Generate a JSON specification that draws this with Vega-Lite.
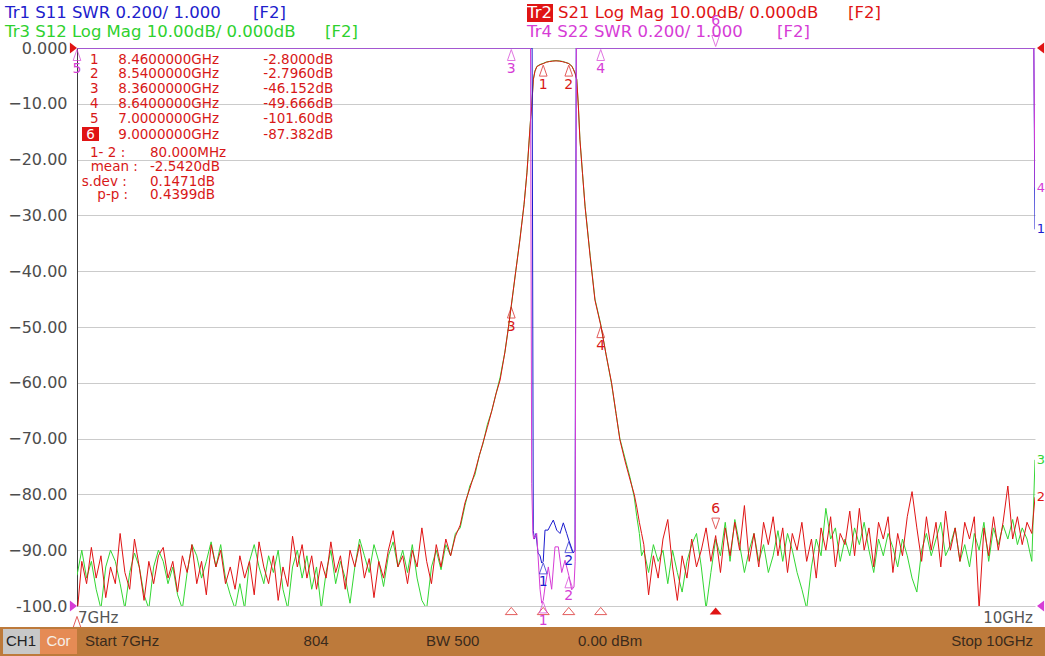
{
  "$schema": "https://vega.github.io/schema/vega-lite/v6.json",
  "width": 958,
  "height": 558,
  "autosize": {"type": "none"},
  "padding": {"left": 77, "top": 48, "right": 10, "bottom": 50},
  "background": "#ffffff",
  "config": {
    "view": {"stroke": null},
    "font": "DejaVu Sans",
    "axis": {"gridColor": "#cbcbcb", "gridWidth": 1}
  },
  "datasets": {
    "s21": [
      {"f":7,"v":-101.6},{"f":7.015,"v":-92},{"f":7.03,"v":-96},{"f":7.045,"v":-89.5},{"f":7.06,"v":-95},{"f":7.075,"v":-91},{"f":7.09,"v":-98.5},{"f":7.105,"v":-93},{"f":7.12,"v":-96},{"f":7.135,"v":-87},
      {"f":7.15,"v":-94},{"f":7.165,"v":-97},{"f":7.18,"v":-88},{"f":7.195,"v":-93},{"f":7.21,"v":-99},{"f":7.225,"v":-92},{"f":7.24,"v":-96},{"f":7.255,"v":-91},{"f":7.27,"v":-89.5},{"f":7.285,"v":-95},
      {"f":7.3,"v":-92},{"f":7.315,"v":-97.5},{"f":7.33,"v":-91},{"f":7.345,"v":-94},{"f":7.36,"v":-89},{"f":7.375,"v":-96},{"f":7.39,"v":-92},{"f":7.405,"v":-98},{"f":7.42,"v":-89},{"f":7.435,"v":-93},
      {"f":7.45,"v":-90},{"f":7.465,"v":-96},{"f":7.48,"v":-93},{"f":7.495,"v":-97},{"f":7.51,"v":-91},{"f":7.525,"v":-95},{"f":7.54,"v":-92},{"f":7.555,"v":-98},{"f":7.57,"v":-88.5},{"f":7.585,"v":-93},
      {"f":7.6,"v":-96},{"f":7.615,"v":-91},{"f":7.63,"v":-99},{"f":7.645,"v":-93},{"f":7.66,"v":-96.5},{"f":7.675,"v":-87.5},{"f":7.69,"v":-93},{"f":7.705,"v":-89},{"f":7.72,"v":-95},{"f":7.735,"v":-91},
      {"f":7.75,"v":-97},{"f":7.765,"v":-92},{"f":7.78,"v":-95},{"f":7.795,"v":-88.5},{"f":7.81,"v":-94},{"f":7.825,"v":-91},{"f":7.84,"v":-97},{"f":7.855,"v":-90},{"f":7.87,"v":-93},{"f":7.885,"v":-89},
      {"f":7.9,"v":-95},{"f":7.915,"v":-91.5},{"f":7.93,"v":-98.5},{"f":7.945,"v":-92},{"f":7.96,"v":-95},{"f":7.975,"v":-90},{"f":7.99,"v":-86.5},{"f":8.005,"v":-93},{"f":8.02,"v":-91},{"f":8.035,"v":-96},
      {"f":8.05,"v":-90},{"f":8.065,"v":-93},{"f":8.08,"v":-86},{"f":8.095,"v":-92},{"f":8.11,"v":-96},{"f":8.125,"v":-89},{"f":8.14,"v":-93},{"f":8.155,"v":-88},{"f":8.17,"v":-91},{"f":8.185,"v":-87.5},
      {"f":8.2,"v":-85.5},{"f":8.215,"v":-81.5},{"f":8.23,"v":-79},{"f":8.246,"v":-76},{"f":8.26,"v":-73},{"f":8.271,"v":-70.8},{"f":8.285,"v":-68},{"f":8.299,"v":-65},{"f":8.312,"v":-62},{"f":8.325,"v":-59.5},
      {"f":8.34,"v":-54.5},{"f":8.35,"v":-50.5},{"f":8.36,"v":-46.152},{"f":8.374,"v":-40},{"f":8.387,"v":-34.4},{"f":8.4,"v":-28},{"f":8.409,"v":-22.4},{"f":8.416,"v":-16.5},{"f":8.421,"v":-12.3},{"f":8.424,"v":-10.5},
      {"f":8.429,"v":-5.7},{"f":8.434,"v":-4.2},{"f":8.44,"v":-3.35},{"f":8.45,"v":-3.0},{"f":8.46,"v":-2.8},{"f":8.47,"v":-2.55},{"f":8.48,"v":-2.42},{"f":8.49,"v":-2.35},{"f":8.5,"v":-2.3},{"f":8.51,"v":-2.35},
      {"f":8.52,"v":-2.45},{"f":8.53,"v":-2.6},{"f":8.54,"v":-2.796},{"f":8.55,"v":-3.3},{"f":8.555,"v":-3.9},{"f":8.56,"v":-4.6},{"f":8.565,"v":-5.7},{"f":8.57,"v":-10.4},{"f":8.575,"v":-16.5},{"f":8.583,"v":-22.5},
      {"f":8.591,"v":-28.4},{"f":8.607,"v":-37.4},{"f":8.622,"v":-45.2},{"f":8.64,"v":-49.666},{"f":8.657,"v":-55},{"f":8.674,"v":-60},{"f":8.688,"v":-65.5},{"f":8.7,"v":-70.2},{"f":8.716,"v":-74},{"f":8.732,"v":-77.4},
      {"f":8.745,"v":-80},{"f":8.753,"v":-82.3},{"f":8.761,"v":-85},{"f":8.768,"v":-87},
      {"f":8.775,"v":-89},{"f":8.79,"v":-98},{"f":8.805,"v":-91},{"f":8.82,"v":-95},{"f":8.835,"v":-88},{"f":8.85,"v":-84.5},{"f":8.865,"v":-93},{"f":8.88,"v":-99},{"f":8.895,"v":-91},{"f":8.91,"v":-95},
      {"f":8.925,"v":-88},{"f":8.94,"v":-93},{"f":8.955,"v":-90},{"f":8.97,"v":-86},{"f":8.985,"v":-92},{"f":9,"v":-87.382},{"f":9.015,"v":-94},{"f":9.03,"v":-86},{"f":9.045,"v":-91},{"f":9.06,"v":-85},
      {"f":9.075,"v":-90},{"f":9.09,"v":-82},{"f":9.105,"v":-92},{"f":9.12,"v":-87},{"f":9.135,"v":-93},{"f":9.15,"v":-85},{"f":9.165,"v":-89},{"f":9.18,"v":-84},{"f":9.195,"v":-91},{"f":9.21,"v":-86},
      {"f":9.225,"v":-94},{"f":9.24,"v":-87},{"f":9.255,"v":-90},{"f":9.27,"v":-85},{"f":9.285,"v":-92},{"f":9.3,"v":-88},{"f":9.315,"v":-95},{"f":9.33,"v":-86},{"f":9.345,"v":-90},{"f":9.36,"v":-84},
      {"f":9.375,"v":-93},{"f":9.39,"v":-87},{"f":9.405,"v":-89},{"f":9.42,"v":-83},{"f":9.435,"v":-91},{"f":9.45,"v":-82.5},{"f":9.465,"v":-90},{"f":9.48,"v":-86},{"f":9.495,"v":-93},{"f":9.51,"v":-85},
      {"f":9.525,"v":-88},{"f":9.54,"v":-84},{"f":9.555,"v":-94},{"f":9.57,"v":-87},{"f":9.585,"v":-91},{"f":9.6,"v":-84},{"f":9.615,"v":-79.5},{"f":9.63,"v":-86},{"f":9.645,"v":-92},{"f":9.66,"v":-84},
      {"f":9.675,"v":-90},{"f":9.69,"v":-85},{"f":9.705,"v":-93},{"f":9.72,"v":-83},{"f":9.735,"v":-90},{"f":9.75,"v":-86},{"f":9.765,"v":-92},{"f":9.78,"v":-85},{"f":9.795,"v":-88},{"f":9.81,"v":-84},
      {"f":9.825,"v":-100.5},{"f":9.84,"v":-86},{"f":9.855,"v":-91},{"f":9.87,"v":-84},{"f":9.885,"v":-90},{"f":9.9,"v":-85},{"f":9.915,"v":-78.5},{"f":9.93,"v":-88},{"f":9.945,"v":-84},{"f":9.96,"v":-89},
      {"f":9.975,"v":-85},{"f":9.99,"v":-87},{"f":10,"v":-80.5}
    ],
    "s12": [
      {"f":7,"v":-94.5},{"f":7.015,"v":-90},{"f":7.03,"v":-95},{"f":7.045,"v":-92},{"f":7.06,"v":-97},{"f":7.075,"v":-100.5},{"f":7.09,"v":-93},{"f":7.105,"v":-90},{"f":7.12,"v":-92},{"f":7.135,"v":-96},
      {"f":7.15,"v":-100.5},{"f":7.165,"v":-94},{"f":7.18,"v":-90.5},{"f":7.195,"v":-93},{"f":7.21,"v":-98},{"f":7.225,"v":-100.5},{"f":7.24,"v":-93},{"f":7.255,"v":-90},{"f":7.27,"v":-92},{"f":7.285,"v":-96},
      {"f":7.3,"v":-93},{"f":7.315,"v":-98},{"f":7.33,"v":-100.5},{"f":7.345,"v":-94},{"f":7.36,"v":-89},{"f":7.375,"v":-91},{"f":7.39,"v":-95},{"f":7.405,"v":-92},{"f":7.42,"v":-88.5},{"f":7.435,"v":-93},
      {"f":7.45,"v":-89},{"f":7.465,"v":-95},{"f":7.48,"v":-98},{"f":7.495,"v":-100.5},{"f":7.51,"v":-96},{"f":7.525,"v":-100.5},{"f":7.54,"v":-92},{"f":7.555,"v":-89},{"f":7.57,"v":-93},{"f":7.585,"v":-96},
      {"f":7.6,"v":-91},{"f":7.615,"v":-94},{"f":7.63,"v":-90},{"f":7.645,"v":-97},{"f":7.66,"v":-100.5},{"f":7.675,"v":-93},{"f":7.69,"v":-90},{"f":7.705,"v":-95},{"f":7.72,"v":-91},{"f":7.735,"v":-97},
      {"f":7.75,"v":-93},{"f":7.765,"v":-100.5},{"f":7.78,"v":-94},{"f":7.795,"v":-90},{"f":7.81,"v":-96},{"f":7.825,"v":-92},{"f":7.84,"v":-95},{"f":7.855,"v":-99.5},{"f":7.87,"v":-93},{"f":7.885,"v":-88},
      {"f":7.9,"v":-91},{"f":7.915,"v":-94},{"f":7.93,"v":-89},{"f":7.945,"v":-92},{"f":7.96,"v":-96.5},{"f":7.975,"v":-91},{"f":7.99,"v":-88.5},{"f":8.005,"v":-93},{"f":8.02,"v":-90},{"f":8.035,"v":-94},
      {"f":8.05,"v":-89},{"f":8.065,"v":-95},{"f":8.08,"v":-99},{"f":8.095,"v":-100.5},{"f":8.11,"v":-93},{"f":8.125,"v":-90},{"f":8.14,"v":-93.5},{"f":8.155,"v":-89},{"f":8.17,"v":-91},{"f":8.185,"v":-87},
      {"f":8.2,"v":-86},{"f":8.215,"v":-82},{"f":8.23,"v":-78.5},{"f":8.246,"v":-76.5},{"f":8.26,"v":-73},{"f":8.271,"v":-71},{"f":8.285,"v":-67.5},{"f":8.299,"v":-65},{"f":8.312,"v":-62},{"f":8.325,"v":-59},
      {"f":8.34,"v":-54.5},{"f":8.35,"v":-50.5},{"f":8.36,"v":-46.3},{"f":8.374,"v":-40},{"f":8.387,"v":-34.2},{"f":8.4,"v":-28},{"f":8.409,"v":-22.3},{"f":8.416,"v":-16.5},{"f":8.421,"v":-12.2},{"f":8.424,"v":-10.4},
      {"f":8.429,"v":-5.6},{"f":8.434,"v":-4.1},{"f":8.44,"v":-3.3},{"f":8.45,"v":-2.95},{"f":8.46,"v":-2.75},{"f":8.47,"v":-2.5},{"f":8.48,"v":-2.4},{"f":8.49,"v":-2.3},{"f":8.5,"v":-2.28},{"f":8.51,"v":-2.3},
      {"f":8.52,"v":-2.4},{"f":8.53,"v":-2.58},{"f":8.54,"v":-2.78},{"f":8.55,"v":-3.25},{"f":8.555,"v":-3.85},{"f":8.56,"v":-4.55},{"f":8.565,"v":-5.6},{"f":8.57,"v":-10.3},{"f":8.575,"v":-16.4},{"f":8.583,"v":-22.4},
      {"f":8.591,"v":-28.3},{"f":8.607,"v":-37.2},{"f":8.622,"v":-45},{"f":8.64,"v":-49.5},{"f":8.657,"v":-55},{"f":8.674,"v":-60.2},{"f":8.688,"v":-65.5},{"f":8.7,"v":-70},{"f":8.716,"v":-73.5},{"f":8.732,"v":-77},
      {"f":8.745,"v":-80.5},{"f":8.753,"v":-84},{"f":8.761,"v":-87},{"f":8.768,"v":-91},
      {"f":8.775,"v":-90},{"f":8.79,"v":-94},{"f":8.805,"v":-89},{"f":8.82,"v":-92},{"f":8.835,"v":-90},{"f":8.85,"v":-96},{"f":8.865,"v":-90},{"f":8.88,"v":-94},{"f":8.895,"v":-97.5},{"f":8.91,"v":-92},
      {"f":8.925,"v":-89},{"f":8.94,"v":-87},{"f":8.955,"v":-93},{"f":8.97,"v":-100.5},{"f":8.985,"v":-94},{"f":9,"v":-88},{"f":9.015,"v":-91},{"f":9.03,"v":-85},{"f":9.045,"v":-92},{"f":9.06,"v":-84.5},
      {"f":9.075,"v":-89},{"f":9.09,"v":-94},{"f":9.105,"v":-90},{"f":9.12,"v":-87},{"f":9.135,"v":-92},{"f":9.15,"v":-89},{"f":9.165,"v":-94},{"f":9.18,"v":-91},{"f":9.195,"v":-86.5},{"f":9.21,"v":-92},
      {"f":9.225,"v":-87},{"f":9.24,"v":-90},{"f":9.255,"v":-94},{"f":9.27,"v":-97},{"f":9.285,"v":-100.5},{"f":9.3,"v":-93},{"f":9.315,"v":-88},{"f":9.33,"v":-91},{"f":9.345,"v":-82.5},{"f":9.36,"v":-88},
      {"f":9.375,"v":-86},{"f":9.39,"v":-92},{"f":9.405,"v":-88},{"f":9.42,"v":-91},{"f":9.435,"v":-86},{"f":9.45,"v":-89},{"f":9.465,"v":-85},{"f":9.48,"v":-90},{"f":9.495,"v":-94},{"f":9.51,"v":-88},
      {"f":9.525,"v":-91},{"f":9.54,"v":-87},{"f":9.555,"v":-89.5},{"f":9.57,"v":-93},{"f":9.585,"v":-88},{"f":9.6,"v":-91},{"f":9.615,"v":-95},{"f":9.63,"v":-97.5},{"f":9.645,"v":-90},{"f":9.66,"v":-87},
      {"f":9.675,"v":-91},{"f":9.69,"v":-88},{"f":9.705,"v":-85},{"f":9.72,"v":-91},{"f":9.735,"v":-89},{"f":9.75,"v":-86},{"f":9.765,"v":-92},{"f":9.78,"v":-89},{"f":9.795,"v":-93},{"f":9.81,"v":-87},
      {"f":9.825,"v":-90},{"f":9.84,"v":-85},{"f":9.855,"v":-92},{"f":9.87,"v":-86},{"f":9.885,"v":-89},{"f":9.9,"v":-85.5},{"f":9.915,"v":-88},{"f":9.93,"v":-84.5},{"f":9.945,"v":-89},{"f":9.96,"v":-86},
      {"f":9.975,"v":-88},{"f":9.99,"v":-92},{"f":10,"v":-73.8}
    ],
    "s11": [
      {"f":7,"v":12},{"f":8.4252,"v":12},{"f":8.4289,"v":1.27},{"f":8.4326,"v":1.24},{"f":8.4374,"v":1.26},{"f":8.4437,"v":1.19},{"f":8.45,"v":1.18},{"f":8.4553,"v":1.154},
      {"f":8.46,"v":1.16},{"f":8.4656,"v":1.272},{"f":8.475,"v":1.272},{"f":8.483,"v":1.29},{"f":8.4916,"v":1.308},{"f":8.497,"v":1.29},{"f":8.5022,"v":1.272},{"f":8.5126,"v":1.26},
      {"f":8.5229,"v":1.298},{"f":8.5335,"v":1.26},{"f":8.54,"v":1.236},{"f":8.5542,"v":1.19},{"f":8.5595,"v":1.2},{"f":8.5633,"v":12},{"f":9.9963,"v":12},{"f":10,"v":2.35}
    ],
    "s22": [
      {"f":7,"v":12},{"f":8.4202,"v":12},{"f":8.4239,"v":1.44},{"f":8.4276,"v":1.26},{"f":8.43,"v":1.24},{"f":8.4396,"v":1.26},{"f":8.45,"v":1.06},{"f":8.4553,"v":1.01},
      {"f":8.46,"v":1.02},{"f":8.4656,"v":1.068},{"f":8.476,"v":1.14},{"f":8.4864,"v":1.06},{"f":8.4969,"v":1.212},{"f":8.5073,"v":1.212},{"f":8.5179,"v":1.12},{"f":8.5283,"v":1.164},
      {"f":8.54,"v":1.11},{"f":8.5491,"v":1.058},{"f":8.5563,"v":1.068},{"f":8.56,"v":1.16},{"f":8.5638,"v":12},{"f":9.9963,"v":12},{"f":10,"v":2.5}
    ],
    "mk": [
      {"n":"1","f":8.46,"v":-2.8},{"n":"2","f":8.54,"v":-2.796},{"n":"3","f":8.36,"v":-46.152},
      {"n":"4","f":8.64,"v":-49.666},{"n":"5","f":7,"v":-101.6},{"n":"6","f":9,"v":-87.382,"active":true}
    ],
    "mk22": [
      {"n":"1","f":8.46,"v":1.02},{"n":"2","f":8.54,"v":1.11},{"n":"3","f":8.36,"v":12},
      {"n":"4","f":8.64,"v":12},{"n":"5","f":7,"v":12},{"n":"6","f":9,"v":12,"active":true}
    ],
    "mk11": [
      {"n":"1","f":8.46,"v":1.16},{"n":"2","f":8.54,"v":1.236}
    ],
    "ref21": [
      {"side":"l","f":7,"v":0},{"side":"r","f":10,"v":0}
    ],
    "ref22": [
      {"side":"l","f":7,"v":1},{"side":"r","f":10,"v":1}
    ],
    "head": [
      {"tr":"Tr1","text":"Tr1 S11 SWR 0.200/ 1.000","f":6.7745,"v":6.27},
      {"tr":"Tr1","text":"[F2]","f":7.5511,"v":6.27},
      {"tr":"Tr3","text":"Tr3 S12 Log Mag 10.00dB/ 0.000dB","f":6.7745,"v":2.87},
      {"tr":"Tr3","text":"[F2]","f":7.7766,"v":2.87},
      {"tr":"Tr2","text":"S21 Log Mag 10.00dB/ 0.000dB","f":8.5063,"v":6.27},
      {"tr":"Tr2","text":"[F2]","f":9.4144,"v":6.27},
      {"tr":"Tr4","text":"Tr4 S22 SWR 0.200/ 1.000","f":8.4092,"v":2.87},
      {"tr":"Tr4","text":"[F2]","f":9.1921,"v":2.87}
    ],
    "tag": [
      {"text":"Tr2","f":8.4092,"f2":8.4906,"v":7.885,"v2":4.66,"vt":6.27}
    ],
    "tbl": [
      {"col":"num","text":"1","f":7.0407,"v":-2.15},
      {"col":"num","text":"2","f":7.0407,"v":-4.66},
      {"col":"num","text":"3","f":7.0407,"v":-7.4},
      {"col":"num","text":"4","f":7.0407,"v":-10.09},
      {"col":"num","text":"5","f":7.0407,"v":-12.78},
      {"col":"freq","text":"8.4600000GHz","f":7.1293,"v":-2.15},
      {"col":"freq","text":"8.5400000GHz","f":7.1293,"v":-4.66},
      {"col":"freq","text":"8.3600000GHz","f":7.1293,"v":-7.4},
      {"col":"freq","text":"8.6400000GHz","f":7.1293,"v":-10.09},
      {"col":"freq","text":"7.0000000GHz","f":7.1293,"v":-12.78},
      {"col":"freq","text":"9.0000000GHz","f":7.1293,"v":-15.54},
      {"col":"val","text":"-2.8000dB","f":7.5834,"v":-2.15},
      {"col":"val","text":"-2.7960dB","f":7.5834,"v":-4.66},
      {"col":"val","text":"-46.152dB","f":7.5834,"v":-7.4},
      {"col":"val","text":"-49.666dB","f":7.5834,"v":-10.09},
      {"col":"val","text":"-101.60dB","f":7.5834,"v":-12.78},
      {"col":"val","text":"-87.382dB","f":7.5834,"v":-15.54},
      {"col":"lab","text":"1- 2  :","f":7.0407,"v":-18.87},
      {"col":"lab","text":"mean  :","f":7.0429,"v":-21.27},
      {"col":"lab","text":"s.dev  :","f":7.0147,"v":-23.96},
      {"col":"lab","text":"p-p  :","f":7.0636,"v":-26.34},
      {"col":"val","text":"80.000MHz","f":7.2286,"v":-18.87},
      {"col":"val","text":"-2.5420dB","f":7.2286,"v":-21.27},
      {"col":"val","text":"0.1471dB","f":7.2286,"v":-23.96},
      {"col":"val","text":"0.4399dB","f":7.2286,"v":-26.34}
    ],
    "tblact": [
      {"text":"6","f":7.0157,"f2":7.0689,"v":-14.16,"v2":-16.67,"ft":7.0423,"vt":-15.54}
    ],
    "bar": [
      {"part":"bar","f":6.7589,"f2":10.0313,"v":-103.76,"v2":-108.96},
      {"part":"ch","f":6.7683,"f2":6.8841,"v":-104.12,"v2":-108.6},
      {"part":"cor","f":6.8841,"f2":7.0,"v":-104.12,"v2":-108.6}
    ],
    "bartext": [
      {"pos":"l","text":"Start 7GHz","f":7.025,"v":-106.27},
      {"pos":"l","text":"804","f":7.7096,"v":-106.27},
      {"pos":"l","text":"BW 500","f":8.0929,"v":-106.27},
      {"pos":"l","text":"0.00 dBm","f":8.5689,"v":-106.27},
      {"pos":"r","text":"Stop 10GHz","f":10.0,"v":-106.27},
      {"pos":"ch","text":"CH1","f":6.8246,"v":-106.27},
      {"pos":"cor","text":"Cor","f":6.9421,"v":-106.27}
    ],
    "xlab": [
      {"pos":"l","text":"7GHz","f":7.0,"v":-102.15},
      {"pos":"r","text":"10GHz","f":10.0,"v":-102.15}
    ]
  },
  "resolve": {"scale": {"y": "independent"}},
  "layer": [
    {
      "resolve": {"scale": {"color": "independent"}},
      "encoding": {
        "x": {
          "field": "f", "type": "quantitative",
          "scale": {"domain": [7, 10], "nice": false, "zero": false},
          "axis": {"values": [7, 7.3, 7.6, 7.9, 8.2, 8.5, 8.8, 9.1, 9.4, 9.7, 10], "labels": false, "ticks": false, "domain": true, "domainColor": "#666666", "grid": true, "title": null}
        },
        "y": {
          "field": "v", "type": "quantitative",
          "scale": {"domain": [-100, 0], "nice": false, "zero": false},
          "axis": {
            "values": [-100, -90, -80, -70, -60, -50, -40, -30, -20, -10, 0],
            "labelExpr": "datum.value == 0 ? '0.000' : datum.value == -100 ? '-100.0' : format(datum.value, '.2f')",
            "labelFontSize": 16, "labelColor": "#4d4d4d", "labelPadding": 10, "labelFlush": false, "labelOverlap": false,
            "ticks": false, "domain": true, "domainColor": "#3c3c3c", "grid": true, "title": null
          }
        }
      },
      "layer": [
        {"data": {"values": [{}]}, "mark": {"type": "rule", "color": "#666666"}, "encoding": {"y": {"datum": 0}}},
        {"data": {"values": [{}]}, "mark": {"type": "rule", "color": "#666666"}, "encoding": {"x": {"datum": 10}}},
        {"data": {"name": "s12"}, "mark": {"type": "line", "color": "#33d633", "strokeWidth": 1, "clip": true}},
        {"data": {"name": "s21"}, "mark": {"type": "line", "color": "#e01414", "strokeWidth": 1, "clip": true}},
        {
          "data": {"name": "mk"}, "transform": [{"filter": "!datum.active"}],
          "mark": {"type": "point", "shape": "M0,-1L0.7,1L-0.7,1Z", "size": 121, "filled": false, "color": "#d81818", "strokeWidth": 1, "yOffset": 7}
        },
        {
          "data": {"name": "mk"}, "transform": [{"filter": "!datum.active"}],
          "mark": {"type": "text", "color": "#d81818", "fontSize": 14, "yOffset": 21},
          "encoding": {"text": {"field": "n"}}
        },
        {
          "data": {"name": "mk"}, "transform": [{"filter": "datum.active"}],
          "mark": {"type": "point", "shape": "M0,1L0.7,-1L-0.7,-1Z", "size": 121, "filled": false, "color": "#d81818", "strokeWidth": 1, "yOffset": -12}
        },
        {
          "data": {"name": "mk"}, "transform": [{"filter": "datum.active"}],
          "mark": {"type": "text", "color": "#d81818", "fontSize": 14, "yOffset": -27},
          "encoding": {"text": {"field": "n"}}
        },
        {
          "data": {"name": "mk"}, "transform": [{"filter": "!datum.active && datum.n != '5'"}],
          "mark": {"type": "point", "shape": "M0,-0.6L1,0.6L-1,0.6Z", "size": 144, "filled": false, "color": "#d81818", "strokeWidth": 1, "yOffset": 5},
          "encoding": {"y": {"datum": -100}}
        },
        {
          "data": {"name": "mk"}, "transform": [{"filter": "datum.active"}],
          "mark": {"type": "point", "shape": "M0,-0.6L1,0.6L-1,0.6Z", "size": 144, "filled": true, "opacity": 1, "color": "#e01414", "yOffset": 5},
          "encoding": {"y": {"datum": -100}}
        },
        {
          "data": {"name": "ref21"}, "transform": [{"filter": "datum.side == 'l'"}],
          "mark": {"type": "point", "shape": "M1,0L-0.3,-1L-0.3,1Z", "size": 121, "filled": true, "opacity": 1, "color": "#e01414", "xOffset": -5.5}
        },
        {
          "data": {"name": "ref21"}, "transform": [{"filter": "datum.side == 'r'"}],
          "mark": {"type": "point", "shape": "M-1,0L0.3,-1L0.3,1Z", "size": 121, "filled": true, "opacity": 1, "color": "#e01414", "xOffset": 7.5}
        },
        {
          "data": {"name": "s21"}, "transform": [{"filter": "datum.f == 10"}],
          "mark": {"type": "text", "color": "#e01414", "fontSize": 13, "dx": 6},
          "encoding": {"text": {"value": "2"}}
        },
        {
          "data": {"name": "s12"}, "transform": [{"filter": "datum.f == 10"}],
          "mark": {"type": "text", "color": "#33d633", "fontSize": 13, "dx": 6},
          "encoding": {"text": {"value": "3"}}
        },
        {
          "data": {"name": "head"},
          "mark": {"type": "text", "align": "left", "baseline": "middle", "fontSize": 16.5},
          "encoding": {
            "text": {"field": "text"},
            "color": {"field": "tr", "type": "nominal", "legend": null,
              "scale": {"domain": ["Tr1", "Tr2", "Tr3", "Tr4"], "range": ["#2020cc", "#e01414", "#2ed12e", "#d63cd6"]}}
          }
        },
        {
          "data": {"name": "tag"},
          "mark": {"type": "rect", "color": "#e01414"},
          "encoding": {"x2": {"field": "f2"}, "y2": {"field": "v2"}}
        },
        {
          "data": {"name": "tag"},
          "mark": {"type": "text", "align": "left", "baseline": "middle", "fontSize": 16.5, "color": "#ffffff", "dx": 0},
          "encoding": {"y": {"field": "vt", "type": "quantitative"}, "text": {"field": "text"}}
        },
        {
          "data": {"name": "tblact"},
          "mark": {"type": "rect", "color": "#e01414"},
          "encoding": {"x2": {"field": "f2"}, "y2": {"field": "v2"}}
        },
        {
          "data": {"name": "tblact"},
          "mark": {"type": "text", "align": "center", "baseline": "middle", "fontSize": 13.5, "color": "#ffffff"},
          "encoding": {"x": {"field": "ft", "type": "quantitative"}, "y": {"field": "vt", "type": "quantitative"}, "text": {"field": "text"}}
        },
        {
          "data": {"name": "tbl"},
          "mark": {"type": "text", "align": "left", "baseline": "middle", "fontSize": 13.5, "color": "#d81818"},
          "encoding": {"text": {"field": "text"}}
        },
        {
          "data": {"name": "xlab"}, "transform": [{"filter": "datum.pos == 'l'"}],
          "mark": {"type": "text", "align": "left", "baseline": "middle", "fontSize": 15, "color": "#555555", "dx": 1},
          "encoding": {"text": {"field": "text"}}
        },
        {
          "data": {"name": "xlab"}, "transform": [{"filter": "datum.pos == 'r'"}],
          "mark": {"type": "text", "align": "right", "baseline": "middle", "fontSize": 15, "color": "#555555", "dx": -2},
          "encoding": {"text": {"field": "text"}}
        },
        {
          "data": {"name": "bar"}, "transform": [{"filter": "datum.part == 'bar'"}],
          "mark": {"type": "rect", "color": "#bd7a3b", "opacity": 1},
          "encoding": {"x2": {"field": "f2"}, "y2": {"field": "v2"}}
        },
        {
          "data": {"name": "bar"}, "transform": [{"filter": "datum.part == 'ch'"}],
          "mark": {"type": "rect", "color": "#c8c8c8", "opacity": 1},
          "encoding": {"x2": {"field": "f2"}, "y2": {"field": "v2"}}
        },
        {
          "data": {"name": "bar"}, "transform": [{"filter": "datum.part == 'cor'"}],
          "mark": {"type": "rect", "color": "#e58b55", "opacity": 1},
          "encoding": {"x2": {"field": "f2"}, "y2": {"field": "v2"}}
        },
        {
          "data": {"name": "bartext"}, "transform": [{"filter": "datum.pos == 'l'"}],
          "mark": {"type": "text", "align": "left", "baseline": "middle", "fontSize": 15, "color": "#3a2a1c", "font": "Liberation Sans Narrow, Liberation Sans"},
          "encoding": {"text": {"field": "text"}}
        },
        {
          "data": {"name": "bartext"}, "transform": [{"filter": "datum.pos == 'r'"}],
          "mark": {"type": "text", "align": "right", "baseline": "middle", "fontSize": 15, "color": "#3a2a1c", "font": "Liberation Sans Narrow, Liberation Sans", "dx": -2},
          "encoding": {"text": {"field": "text"}}
        },
        {
          "data": {"name": "bartext"}, "transform": [{"filter": "datum.pos == 'ch'"}],
          "mark": {"type": "text", "align": "center", "baseline": "middle", "fontSize": 15, "color": "#222222", "font": "Liberation Sans Narrow, Liberation Sans"},
          "encoding": {"text": {"field": "text"}}
        },
        {
          "data": {"name": "bartext"}, "transform": [{"filter": "datum.pos == 'cor'"}],
          "mark": {"type": "text", "align": "center", "baseline": "middle", "fontSize": 15, "color": "#f6efe8", "font": "Liberation Sans Narrow, Liberation Sans"},
          "encoding": {"text": {"field": "text"}}
        }
      ]
    },
    {
      "encoding": {
        "x": {"field": "f", "type": "quantitative", "scale": {"domain": [7, 10], "nice": false, "zero": false}, "axis": null},
        "y": {"field": "v", "type": "quantitative", "scale": {"domain": [1, 3], "clamp": true, "nice": false, "zero": false}, "axis": null}
      },
      "layer": [
        {"data": {"name": "s11"}, "mark": {"type": "line", "color": "#1c1ccf", "strokeWidth": 1, "clip": true}},
        {"data": {"name": "s22"}, "mark": {"type": "line", "color": "#d63cd6", "strokeWidth": 1, "clip": true}},
        {
          "data": {"name": "mk11"},
          "mark": {"type": "point", "shape": "M0,-1L0.7,1L-0.7,1Z", "size": 121, "filled": false, "color": "#1c1ccf", "strokeWidth": 1, "yOffset": 7}
        },
        {
          "data": {"name": "mk11"},
          "mark": {"type": "text", "color": "#1c1ccf", "fontSize": 14, "yOffset": 21},
          "encoding": {"text": {"field": "n"}}
        },
        {
          "data": {"name": "mk22"}, "transform": [{"filter": "!datum.active"}],
          "mark": {"type": "point", "shape": "M0,-1L0.7,1L-0.7,1Z", "size": 121, "filled": false, "color": "#d63cd6", "strokeWidth": 1, "yOffset": 7}
        },
        {
          "data": {"name": "mk22"}, "transform": [{"filter": "!datum.active"}],
          "mark": {"type": "text", "color": "#d63cd6", "fontSize": 14, "yOffset": 21},
          "encoding": {"text": {"field": "n"}}
        },
        {
          "data": {"name": "mk22"}, "transform": [{"filter": "datum.active"}],
          "mark": {"type": "point", "shape": "M0,1L0.7,-1L-0.7,-1Z", "size": 121, "filled": false, "color": "#d63cd6", "strokeWidth": 1, "yOffset": -7}
        },
        {
          "data": {"name": "mk22"}, "transform": [{"filter": "datum.active"}],
          "mark": {"type": "text", "color": "#d63cd6", "fontSize": 14, "yOffset": -27},
          "encoding": {"text": {"field": "n"}}
        },
        {
          "data": {"name": "ref22"}, "transform": [{"filter": "datum.side == 'l'"}],
          "mark": {"type": "point", "shape": "M1,0L-0.3,-1L-0.3,1Z", "size": 121, "filled": true, "opacity": 1, "color": "#d63cd6", "xOffset": -5.5}
        },
        {
          "data": {"name": "ref22"}, "transform": [{"filter": "datum.side == 'r'"}],
          "mark": {"type": "point", "shape": "M-1,0L0.3,-1L0.3,1Z", "size": 121, "filled": true, "opacity": 1, "color": "#d63cd6", "xOffset": 7.5}
        },
        {
          "data": {"name": "s11"}, "transform": [{"filter": "datum.f == 10"}],
          "mark": {"type": "text", "color": "#1c1ccf", "fontSize": 13, "dx": 6},
          "encoding": {"text": {"value": "1"}}
        },
        {
          "data": {"name": "s22"}, "transform": [{"filter": "datum.f == 10"}],
          "mark": {"type": "text", "color": "#d63cd6", "fontSize": 13, "dx": 6},
          "encoding": {"text": {"value": "4"}}
        }
      ]
    }
  ]
}
